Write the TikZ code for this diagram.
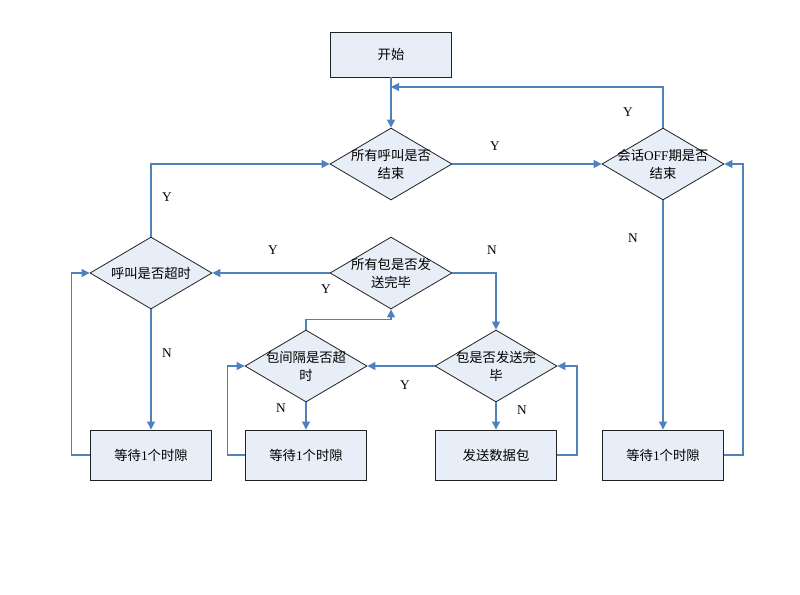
\documentclass[tikz,border=0pt]{standalone}
\usepackage{fontspec}
\setmainfont{Liberation Serif}
\newfontfamily\cjk{Noto Sans CJK SC}
\usetikzlibrary{shapes.geometric,arrows.meta}
\definecolor{boxfill}{HTML}{E8EEF7}
\definecolor{linkblue}{HTML}{4F81BD}
\definecolor{edge}{HTML}{222222}
\tikzset{
  procbox/.style={draw=edge,line width=0.7pt,fill=boxfill,minimum width=90.75pt,minimum height=37.5pt,inner sep=0pt,font=\cjk\fontsize{10}{12}\selectfont},
  startbox/.style={procbox,minimum height=33.75pt},
  decis/.style={diamond,draw=edge,line width=0.6pt,fill=boxfill,minimum width=91.5pt,minimum height=54pt,inner sep=0pt,aspect=1.7},
  dtext/.style={align=center,font=\cjk\fontsize{10}{13.5}\selectfont,inner sep=0pt},
  link/.style={draw=linkblue,line width=0.8pt,-{Triangle[length=6pt,width=6pt]}},
  lab/.style={font=\fontsize{10}{12}\selectfont,inner sep=0pt}
}
\begin{document}
\begin{tikzpicture}[x=0.75pt,y=-0.75pt]
\useasboundingbox (0,0) rectangle (800,594);
% boxes
\node[startbox] (start) at (391,54.5) {开始};
\node[procbox] (b1) at (151,455) {等待{\fontspec{Liberation Serif}1}个时隙};
\node[procbox] (b2) at (306,455) {等待{\fontspec{Liberation Serif}1}个时隙};
\node[procbox] (b3) at (496,455) {发送数据包};
\node[procbox] (b4) at (663,455) {等待{\fontspec{Liberation Serif}1}个时隙};
% decisions
\node[decis] (d1) at (391,164) {};
\node[dtext] at (d1) {所有呼叫是否\\结束};
\node[decis] (d2) at (663,164) {};
\node[dtext] at (d2) {会话{\fontspec{Liberation Serif}OFF}期是否\\结束};
\node[decis] (d3) at (151,273) {};
\node[dtext] at (d3) {呼叫是否超时};
\node[decis] (d5) at (391,273) {};
\node[dtext] at (d5) {所有包是否发\\送完毕};
\node[decis] (d4) at (306,366) {};
\node[dtext] at (d4) {包间隔是否超\\时};
\node[decis] (d6) at (496,366) {};
\node[dtext] at (d6) {包是否发送完\\毕};
\coordinate (j1) at (391,87);
% connectors
\draw[link] (start.south) -- (d1.north);
\draw[link] (d1.east) -- (d2.west);
\draw[link] (d2.north) |- (j1);
\draw[link] (d2.south) -- (b4.north);
\draw[link] (b4.east) -- ++(19,0) |- (d2.east);
\draw[link] (d3.north) |- (d1.west);
\draw[link] (d3.south) -- (b1.north);
\draw[link] (b1.west) -- ++(-18.5,0) |- (d3.west);
\draw[link] (d5.west) -- (d3.east);
\draw[link] (d5.east) -| (d6.north);
\draw[link] (d4.north) -- ++(0,-10.5) -| (d5.south);
\draw[link] (d6.west) -- (d4.east);
\draw[link] (d4.south) -- (b2.north);
\draw[link] (b2.west) -- ++(-17.5,0) |- (d4.west);
\draw[link] (d6.south) -- (b3.north);
\draw[link] (b3.east) -- ++(20,0) |- (d6.east);
% labels
\node[lab] (y1) at (495,146) {Y};
\node[lab] (y2) at (628,112) {Y};
\node[lab] (n1) at (633,238) {N};
\node[lab] (y3) at (167,197) {Y};
\node[lab] (n2) at (167,353) {N};
\node[lab] (y4) at (273,250) {Y};
\node[lab] (n3) at (492,250) {N};
\node[lab] (y5) at (326,289) {Y};
\node[lab] (y6) at (405,385) {Y};
\node[lab] (n4) at (281,408) {N};
\node[lab] (n5) at (522,410) {N};
\end{tikzpicture}
\end{document}
